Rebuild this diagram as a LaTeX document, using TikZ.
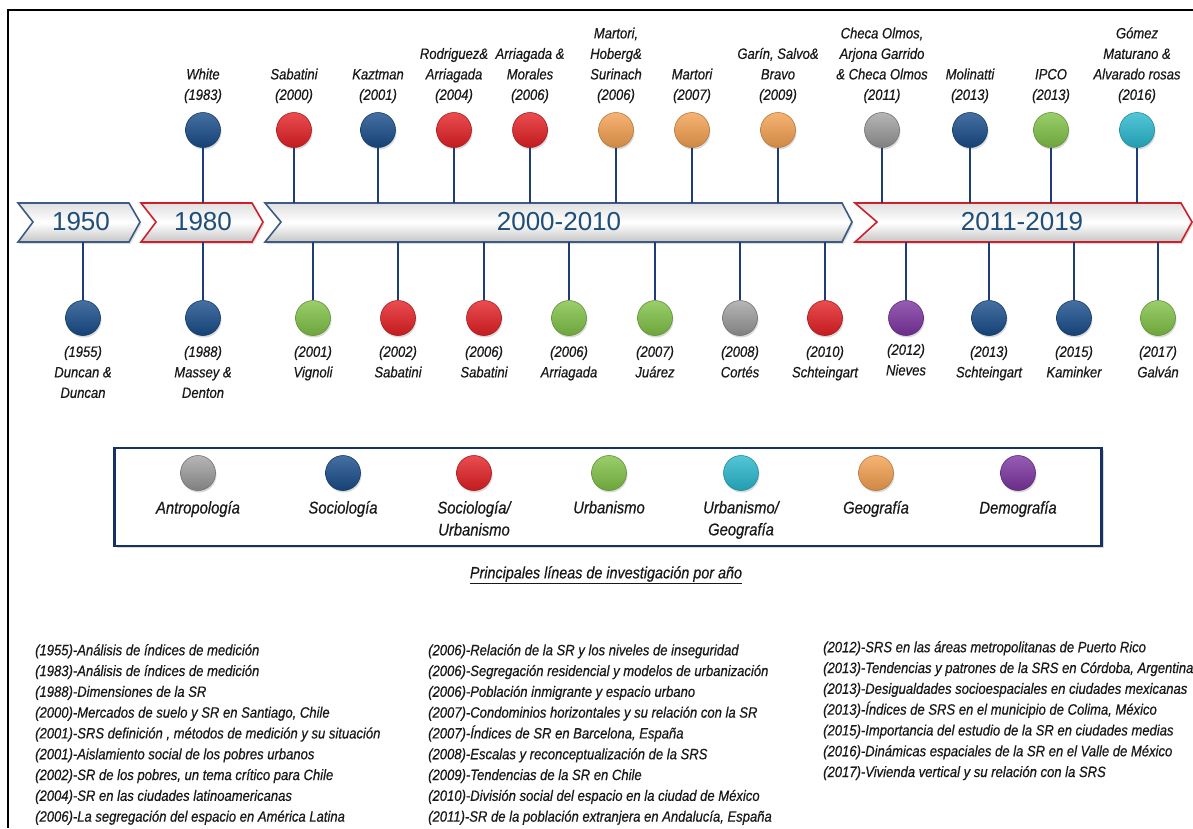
\documentclass[tikz,border=0pt]{standalone}
\usepackage{fontspec}
\newfontfamily\hand[FakeStretch=0.87,FakeBold=0.5]{Liberation Sans}
\newfontfamily\bandfont{Liberation Sans}
\usetikzlibrary{positioning, shadows}

\definecolor{antroc}{RGB}{150,150,150}
\definecolor{socc}{RGB}{24,76,138}
\definecolor{socurbc}{RGB}{228,32,36}
\definecolor{urbc}{RGB}{128,194,70}
\definecolor{urbgeoc}{RGB}{40,184,206}
\definecolor{geoc}{RGB}{244,160,80}
\definecolor{democ}{RGB}{124,52,160}
\definecolor{stemc}{RGB}{30,60,120}
\definecolor{yearc}{RGB}{31,78,121}
\definecolor{bandblue}{RGB}{60,90,130}
\definecolor{bandred}{RGB}{204,32,44}
\definecolor{legc}{RGB}{22,50,100}

\begin{document}
\begin{tikzpicture}[x=1pt,y=-1pt]
\tikzstyle{bead}=[circle, minimum size=35pt, inner sep=0pt, line width=0.6pt, drop shadow={opacity=0.3, shadow xshift=1pt, shadow yshift=-2pt}]
\tikzstyle{antro}=[bead, top color=antroc!70!white, bottom color=antroc!85!black, draw=antroc!75!black]
\tikzstyle{soc}=[bead, top color=socc!80!white, bottom color=socc!85!black, draw=socc!75!black]
\tikzstyle{socurb}=[bead, top color=socurbc!80!white, bottom color=socurbc!85!black, draw=socurbc!75!black]
\tikzstyle{urb}=[bead, top color=urbc!80!white, bottom color=urbc!85!black, draw=urbc!75!black]
\tikzstyle{urbgeo}=[bead, top color=urbgeoc!80!white, bottom color=urbgeoc!85!black, draw=urbgeoc!75!black]
\tikzstyle{geo}=[bead, top color=geoc!80!white, bottom color=geoc!85!black, draw=geoc!75!black]
\tikzstyle{demo}=[bead, top color=democ!80!white, bottom color=democ!85!black, draw=democ!75!black]
\tikzstyle{stem}=[draw=stemc, line width=2.5pt]
\tikzstyle{tag}=[align=center, inner sep=0pt, text=black!90, font=\hand\itshape\fontsize{15}{20.5}\selectfont]
\tikzstyle{legtag}=[align=center, inner sep=0pt, text=black!90, font=\hand\itshape\fontsize{17}{22}\selectfont]
\tikzstyle{listtext}=[align=left, inner sep=0pt, anchor=north west, text=black!90, font=\hand\itshape\fontsize{15}{20.8}\selectfont]
\tikzstyle{band}=[line width=1.6pt, top color=gray!25, bottom color=gray!45, middle color=white, drop shadow={opacity=0.25, shadow xshift=1.5pt, shadow yshift=-2pt}]
\tikzstyle{year}=[text=yearc, inner sep=0pt, font=\bandfont\fontsize{26}{30}\selectfont]
\useasboundingbox (0,0) rectangle (1193,828);
\draw[line width=2pt] (8,828) -- (8,10) -- (1193,10);
\coordinate (bandtop) at (0,203);
\coordinate (bandbot) at (0,242);
\draw[band, draw=bandblue] (18,203) -- (129,203) -- (140,222) -- (129,242) -- (18,242) -- (33,222) -- cycle;
\draw[band, draw=bandred] (141,203) -- (252,203) -- (263,222) -- (252,242) -- (141,242) -- (156,222) -- cycle;
\draw[band, draw=bandblue] (265,203) -- (842,203) -- (852,222) -- (842,242) -- (265,242) -- (281,222) -- cycle;
\draw[band, draw=bandred] (855,203) -- (1181,203) -- (1192,222) -- (1181,242) -- (855,242) -- (877,222) -- cycle;
\node (y1950) [year] at (81,222) {1950};
\node (y1980) [year] at (203,222) {1980};
\node (y2000) [year] at (559,222) {2000-2010};
\node (y2011) [year] at (1022,222) {2011-2019};

\node (t1) [soc] at (203,130) {};
\node (t2) [socurb] at (294,130) {};
\node (t3) [soc] at (378,130) {};
\node (t4) [socurb] at (454,130) {};
\node (t5) [socurb] at (530,130) {};
\node (t6) [geo] at (616,130) {};
\node (t7) [geo] at (692,130) {};
\node (t8) [geo] at (778,130) {};
\node (t9) [antro] at (882,130) {};
\node (t10) [soc] at (970,130) {};
\node (t11) [urb] at (1051,130) {};
\node (t12) [urbgeo] at (1137,130) {};
\node (lt1) [tag, above=9pt of t1] {White\\(1983)};
\node (lt2) [tag, above=9pt of t2] {Sabatini\\(2000)};
\node (lt3) [tag, above=9pt of t3] {Kaztman\\(2001)};
\node (lt4) [tag, above=9pt of t4] {Rodriguez\&\\Arriagada\\(2004)};
\node (lt5) [tag, above=9pt of t5] {Arriagada \&\\Morales\\(2006)};
\node (lt6) [tag, above=9pt of t6] {Martori,\\Hoberg\&\\Surinach\\(2006)};
\node (lt7) [tag, above=9pt of t7] {Martori\\(2007)};
\node (lt8) [tag, above=9pt of t8] {Garín, Salvo\&\\Bravo\\(2009)};
\node (lt9) [tag, above=9pt of t9] {Checa Olmos,\\Arjona Garrido\\\& Checa Olmos\\(2011)};
\node (lt10) [tag, above=9pt of t10] {Molinatti\\(2013)};
\node (lt11) [tag, above=9pt of t11] {IPCO\\(2013)};
\node (lt12) [tag, above=9pt of t12] {Gómez\\Maturano \&\\Alvarado rosas\\(2016)};
\draw[stem] (t1.south) -- (t1 |- bandtop);
\draw[stem] (t2.south) -- (t2 |- bandtop);
\draw[stem] (t3.south) -- (t3 |- bandtop);
\draw[stem] (t4.south) -- (t4 |- bandtop);
\draw[stem] (t5.south) -- (t5 |- bandtop);
\draw[stem] (t6.south) -- (t6 |- bandtop);
\draw[stem] (t7.south) -- (t7 |- bandtop);
\draw[stem] (t8.south) -- (t8 |- bandtop);
\draw[stem] (t9.south) -- (t9 |- bandtop);
\draw[stem] (t10.south) -- (t10 |- bandtop);
\draw[stem] (t11.south) -- (t11 |- bandtop);
\draw[stem] (t12.south) -- (t12 |- bandtop);

\node (b1) [soc] at (83,318) {};
\node (b2) [soc] at (203,318) {};
\node (b3) [urb] at (313,318) {};
\node (b4) [socurb] at (398,318) {};
\node (b5) [socurb] at (484,318) {};
\node (b6) [urb] at (569,318) {};
\node (b7) [urb] at (655,318) {};
\node (b8) [antro] at (740,318) {};
\node (b9) [socurb] at (825,318) {};
\node (b10) [demo] at (906,318) {};
\node (b11) [soc] at (989,318) {};
\node (b12) [soc] at (1074,318) {};
\node (b13) [urb] at (1158,318) {};
\node (lb1) [tag, below=10pt of b1] {(1955)\\Duncan \&\\Duncan};
\node (lb2) [tag, below=10pt of b2] {(1988)\\Massey \&\\Denton};
\node (lb3) [tag, below=10pt of b3] {(2001)\\Vignoli};
\node (lb4) [tag, below=10pt of b4] {(2002)\\Sabatini};
\node (lb5) [tag, below=10pt of b5] {(2006)\\Sabatini};
\node (lb6) [tag, below=10pt of b6] {(2006)\\Arriagada};
\node (lb7) [tag, below=10pt of b7] {(2007)\\Juárez};
\node (lb8) [tag, below=10pt of b8] {(2008)\\Cortés};
\node (lb9) [tag, below=10pt of b9] {(2010)\\Schteingart};
\node (lb10) [tag, below=8pt of b10] {(2012)\\Nieves};
\node (lb11) [tag, below=10pt of b11] {(2013)\\Schteingart};
\node (lb12) [tag, below=10pt of b12] {(2015)\\Kaminker};
\node (lb13) [tag, below=10pt of b13] {(2017)\\Galván};
\draw[stem] (b1.north) -- (b1 |- bandbot);
\draw[stem] (b2.north) -- (b2 |- bandbot);
\draw[stem] (b3.north) -- (b3 |- bandbot);
\draw[stem] (b4.north) -- (b4 |- bandbot);
\draw[stem] (b5.north) -- (b5 |- bandbot);
\draw[stem] (b6.north) -- (b6 |- bandbot);
\draw[stem] (b7.north) -- (b7 |- bandbot);
\draw[stem] (b8.north) -- (b8 |- bandbot);
\draw[stem] (b9.north) -- (b9 |- bandbot);
\draw[stem] (b10.north) -- (b10 |- bandbot);
\draw[stem] (b11.north) -- (b11 |- bandbot);
\draw[stem] (b12.north) -- (b12 |- bandbot);
\draw[stem] (b13.north) -- (b13 |- bandbot);

\node (legend) [draw=legc, fill=white, line width=2.5pt, minimum width=987pt, minimum height=98pt, inner sep=0pt, drop shadow={opacity=0.3, shadow xshift=2pt, shadow yshift=-2pt}] at (608,497) {};
\node (c1) [antro] at (198,473) {};
\node (c2) [soc] at (343,473) {};
\node (c3) [socurb] at (474,473) {};
\node (c4) [urb] at (609,473) {};
\node (c5) [urbgeo] at (741,473) {};
\node (c6) [geo] at (876,473) {};
\node (c7) [demo] at (1018,473) {};
\node (n1) [legtag, below=10pt of c1] {Antropología};
\node (n2) [legtag, below=10pt of c2] {Sociología};
\node (n3) [legtag, below=10pt of c3] {Sociología/\\Urbanismo};
\node (n4) [legtag, below=10pt of c4] {Urbanismo};
\node (n5) [legtag, below=10pt of c5] {Urbanismo/\\Geografía};
\node (n6) [legtag, below=10pt of c6] {Geografía};
\node (n7) [legtag, below=10pt of c7] {Demografía};
\node (caption) [tag, font=\hand\itshape\fontsize{16.5}{20}\selectfont] at (606,575) {\underline{Principales líneas de investigación por año}};

\node (col1) [listtext] at (35,644) {(1955)-Análisis de índices de medición\\
(1983)-Análisis de índices de medición\\
(1988)-Dimensiones de la SR\\
(2000)-Mercados de suelo y SR en Santiago, Chile\\
(2001)-SRS definición , métodos de medición y su situación\\
(2001)-Aislamiento social de los pobres urbanos\\
(2002)-SR de los pobres, un tema crítico para Chile\\
(2004)-SR en las ciudades latinoamericanas\\
(2006)-La segregación del espacio en América Latina};
\node (col2) [listtext] at (428,644) {(2006)-Relación de la SR y los niveles de inseguridad\\
(2006)-Segregación residencial y modelos de urbanización\\
(2006)-Población inmigrante y espacio urbano\\
(2007)-Condominios horizontales y su relación con la SR\\
(2007)-Índices de SR en Barcelona, España\\
(2008)-Escalas y reconceptualización de la SRS\\
(2009)-Tendencias de la SR en Chile\\
(2010)-División social del espacio en la ciudad de México\\
(2011)-SR de la población extranjera en Andalucía, España};
\node (col3) [listtext] at (823,641) {(2012)-SRS en las áreas metropolitanas de Puerto Rico\\
(2013)-Tendencias y patrones de la SRS en Córdoba, Argentina\\
(2013)-Desigualdades socioespaciales en ciudades mexicanas\\
(2013)-Índices de SRS en el municipio de Colima, México\\
(2015)-Importancia del estudio de la SR en ciudades medias\\
(2016)-Dinámicas espaciales de la SR en el Valle de México\\
(2017)-Vivienda vertical y su relación con la SRS};
\end{tikzpicture}
\end{document}
